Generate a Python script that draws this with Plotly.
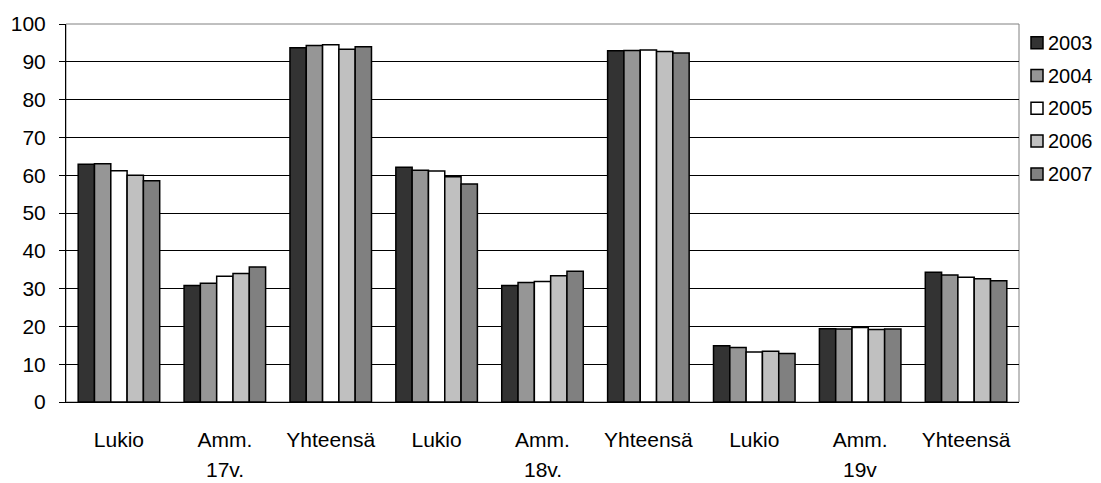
import plotly.graph_objects as go

years = ["2003", "2004", "2005", "2006", "2007"]
groups = ["17v.", "18v.", "19v"]
subcats = ["Lukio", "Amm.", "Yhteensä"]

v2003 = [62.9, 30.8, 93.7, 62.1, 30.8, 92.9, 14.9, 19.4, 34.3]
v2004 = [63.0, 31.4, 94.3, 61.3, 31.6, 93.0, 14.4, 19.3, 33.6]
v2005 = [61.2, 33.3, 94.5, 61.1, 31.9, 93.1, 13.2, 19.7, 33.0]
v2006 = [60.0, 34.0, 93.3, 59.6, 33.4, 92.7, 13.4, 19.2, 32.6]
v2007 = [58.5, 35.7, 94.0, 57.7, 34.6, 92.3, 12.8, 19.3, 32.1]
series = [v2003, v2004, v2005, v2006, v2007]
colors = ["#333333", "#969696", "#FFFFFF", "#C0C0C0", "#808080"]

xkeys = [f"{g}|{s}" for g in groups for s in subcats]
xtext = [s for g in groups for s in subcats]

FONT = "Liberation Sans, Arial, sans-serif"
FS = 21

# page body has an 8px margin; figure sized to fit the window
W, H = 1093, 475
ML, MR, MT, MB = 58, 82, 16, 81
PW, PH = W - ML - MR, H - MT - MB

fig = go.Figure()
for i, (yr, vals) in enumerate(zip(years, series)):
    fig.add_trace(go.Bar(
        x=xkeys, y=vals, name=yr, showlegend=False,
        marker=dict(color=colors[i], line=dict(color="#000000", width=1.5)),
    ))

# second-level category labels
for gi, g in enumerate(groups):
    fig.add_annotation(x=xkeys[gi * 3 + 1], y=-0.178, xref="x", yref="paper",
                       text=g, showarrow=False, yanchor="middle",
                       font=dict(family=FONT, size=FS, color="#000"))

# plot-area frame
fig.add_shape(type="rect", xref="paper", yref="paper", x0=0, x1=1, y0=0, y1=1,
              line=dict(color="#808080", width=1), layer="below")

# legend (swatches + labels) placed to the right of the plot area
leg_x0, leg_sw, leg_tx = 965, 12, 980      # px from plot-area left
leg_y0, leg_dy = 18.7, 32.8                 # px from plot-area top
for i, yr in enumerate(years):
    yc = leg_y0 + i * leg_dy
    fig.add_shape(type="rect", xref="paper", yref="paper",
                  x0=leg_x0 / PW, x1=(leg_x0 + leg_sw) / PW,
                  y0=1 - (yc + leg_sw / 2) / PH, y1=1 - (yc - leg_sw / 2) / PH,
                  fillcolor=colors[i], line=dict(color="#000", width=1.5))
    fig.add_annotation(x=leg_tx / PW, y=1 - yc / PH, xref="paper", yref="paper",
                       text=yr, showarrow=False, xanchor="left", yanchor="middle",
                       font=dict(family=FONT, size=20, color="#000"))

fig.update_layout(
    width=W, height=H,
    margin=dict(l=ML, r=MR, t=MT, b=MB, autoexpand=False),
    paper_bgcolor="white", plot_bgcolor="white",
    barmode="group", bargap=0.23, bargroupgap=0,
    font=dict(family=FONT, size=FS, color="#000"),
    showlegend=False,
    xaxis=dict(type="category", tickvals=xkeys, ticktext=xtext,
               showline=True, linecolor="#000", linewidth=1, automargin=False,
               showgrid=False, ticks="", ticklabelstandoff=19,
               tickfont=dict(family=FONT, size=FS)),
    yaxis=dict(range=[0, 100], dtick=10, showline=True, linecolor="#000",
               linewidth=1, ticks="outside", ticklen=6, tickcolor="#000",
               ticklabelstandoff=9, automargin=False,
               showgrid=True, gridcolor="#000", gridwidth=1,
               zeroline=False, tickfont=dict(family=FONT, size=FS)),
)

fig.write_html("out.html")
